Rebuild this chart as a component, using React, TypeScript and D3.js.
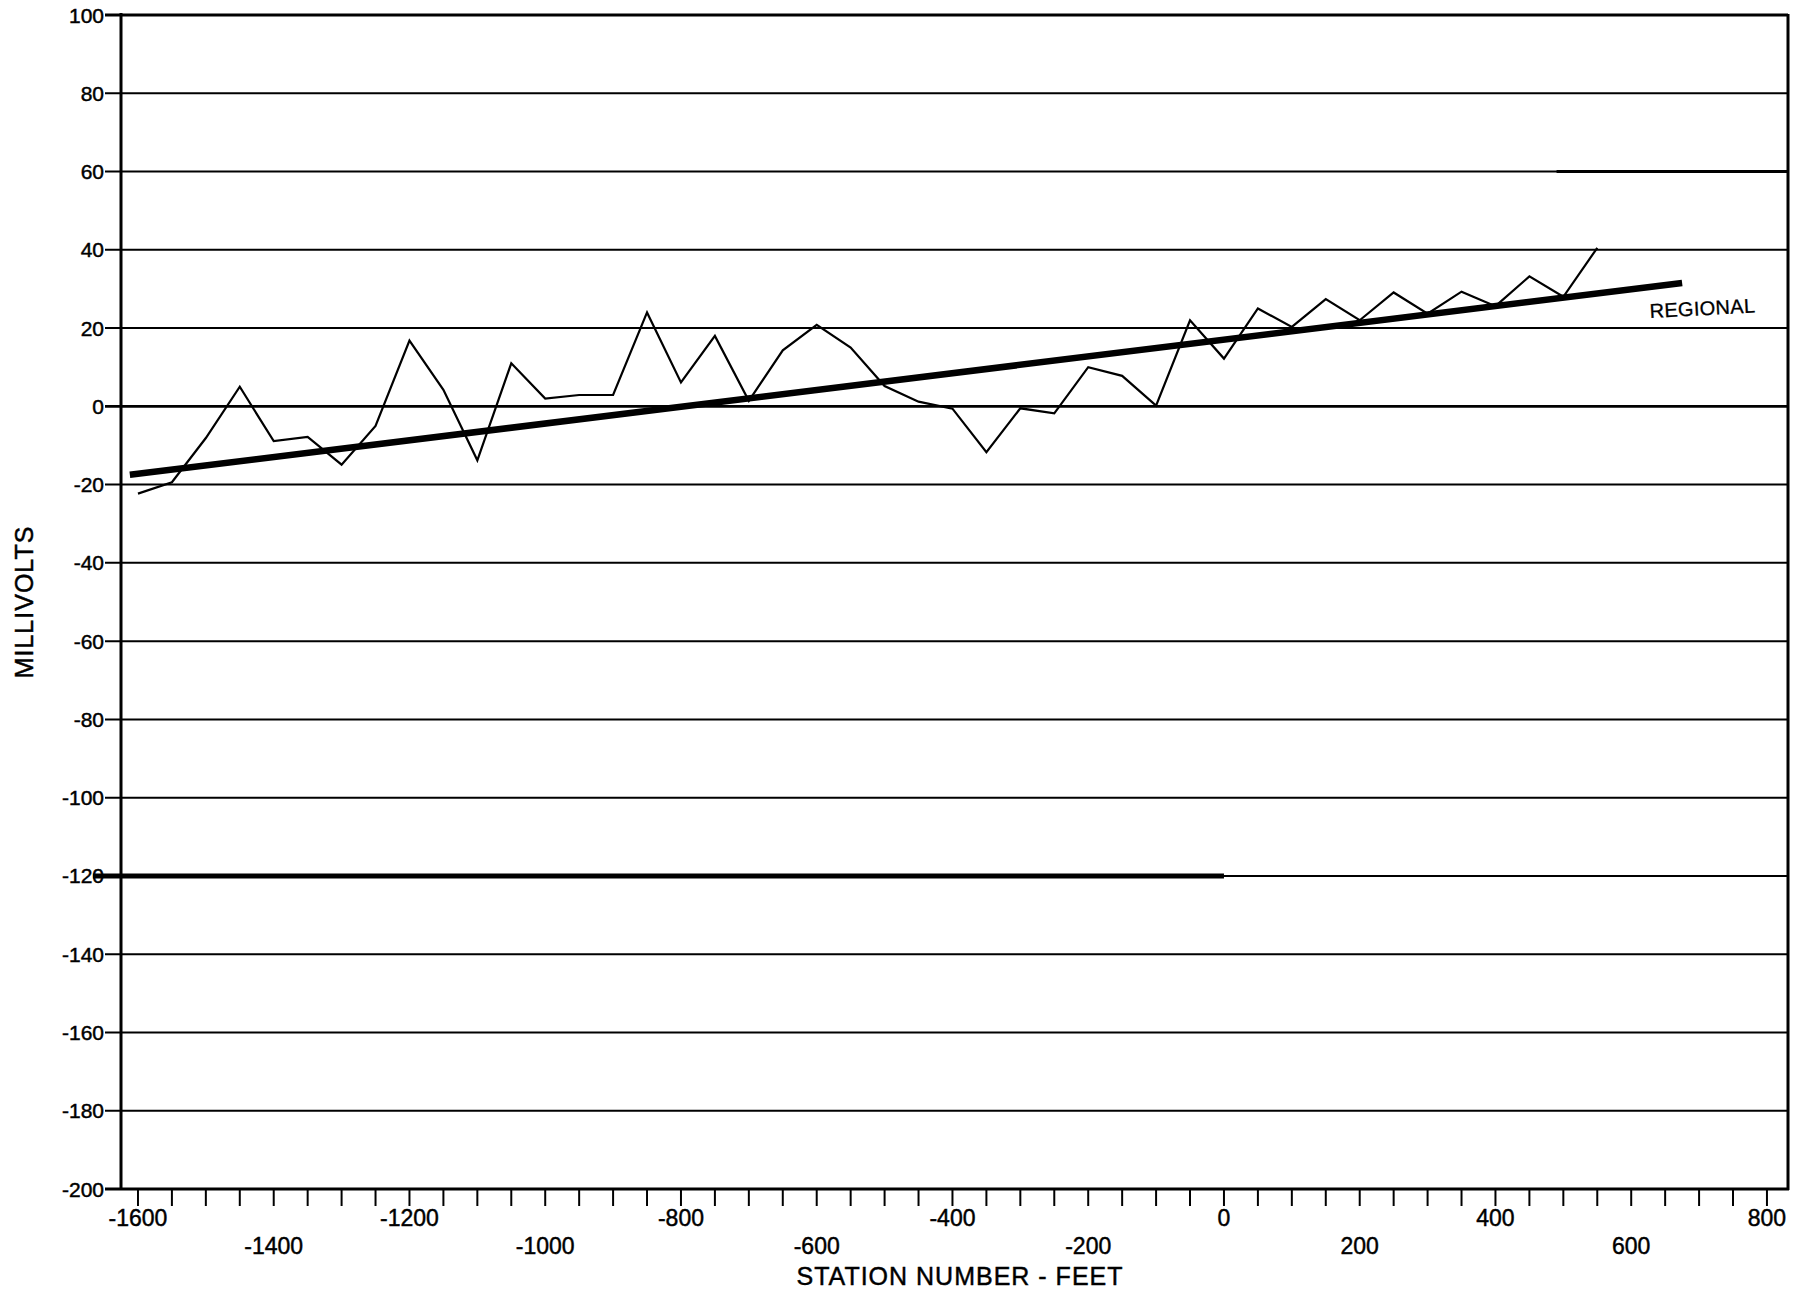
import React from "react";
import * as d3 from "d3";

// Station (feet) and self-potential readings (millivolts)
const stations = [
  -1600, -1550, -1500, -1450, -1400, -1350, -1300, -1250, -1200, -1150,
  -1100, -1050, -1000, -950, -900, -850, -800, -750, -700, -650,
  -600, -550, -500, -450, -400, -350, -300, -250, -200, -150,
  -100, -50, 0, 50, 100, 150, 200, 250, 300, 350,
  400, 450, 500, 550,
];
const millivolts = [
  -22.3, -19.4, -8.1, 5, -8.9, -7.8, -14.9, -5, 16.8, 4.2,
  -13.8, 11, 2, 2.9, 2.9, 24, 6.1, 18, 1.4, 14.3,
  20.8, 15, 5.2, 1.2, -0.6, -11.7, -0.5, -1.8, 10, 7.8,
  0.2, 22, 12.2, 25, 20.3, 27.4, 22, 29.1, 23.7, 29.3,
  25.6, 33.2, 28, 40.5,
];

// Regional trend line end points
const regionalStations = [-1612, 675];
const regionalValues = [-17.5, 31.5];

// Axis ticks
const yTicks = [100, 80, 60, 40, 20, 0, -20, -40, -60, -80, -100, -120, -140, -160, -180, -200];
const xTickMarks = d3.range(-1600, 801, 50);
const xLabelsRow1 = [-1600, -1200, -800, -400, 0, 400, 800];
const xLabelsRow2 = [-1400, -1000, -600, -200, 200, 600];

const FONT = "'Liberation Sans', Arial, Helvetica, sans-serif";

export default function App() {
  const W = 1804;
  const H = 1292;
  const left = 121;
  const right = 1788;
  const top = 15;
  const bottom = 1189;

  const x = d3.scaleLinear().domain([-1625, 831]).range([left, right]);
  const y = d3.scaleLinear().domain([-200, 100]).range([bottom, top]);

  const lineGen = d3
    .line<[number, number]>()
    .x((d) => x(d[0]))
    .y((d) => y(d[1]));

  const spData: [number, number][] = stations.map((s, i) => [s, millivolts[i]]);
  const regData: [number, number][] = regionalStations.map((s, i) => [s, regionalValues[i]]);

  const textStyle = { stroke: "#000", strokeWidth: 0.45 } as const;

  return (
    <svg
      width={W}
      height={H}
      style={{ position: "absolute", left: 0, top: 0, background: "#fff" }}
      fontFamily={FONT}
    >
      <rect x={0} y={0} width={W} height={H} fill="#fff" />

      {/* horizontal grid lines with outward ticks */}
      {yTicks.map((t) => (
        <line
          key={"g" + t}
          x1={left - 16}
          x2={right}
          y1={y(t)}
          y2={y(t)}
          stroke="#000"
          strokeWidth={t === 100 ? 3 : t === 0 ? 2.6 : 2}
        />
      ))}
      {/* heavier segments seen on the plot */}
      <line x1={left - 28} x2={x(0)} y1={y(-120)} y2={y(-120)} stroke="#000" strokeWidth={5} />
      <line x1={x(490)} x2={right} y1={y(60)} y2={y(60)} stroke="#000" strokeWidth={3} />

      {/* y tick labels */}
      {yTicks.map((t) => (
        <text
          key={"yl" + t}
          x={left - 17}
          y={y(t)}
          dy="0.36em"
          textAnchor="end"
          fontSize={21}
          fill="#000"
          {...textStyle}
        >
          {t}
        </text>
      ))}

      {/* frame */}
      <line x1={left} x2={left} y1={top - 2} y2={bottom + 1} stroke="#000" strokeWidth={3} />
      <line x1={right} x2={right} y1={top - 1} y2={bottom + 1} stroke="#000" strokeWidth={3} />
      <line x1={left - 16} x2={right + 1} y1={bottom} y2={bottom} stroke="#000" strokeWidth={3} />

      {/* x tick marks */}
      {xTickMarks.map((t) => (
        <line
          key={"xt" + t}
          x1={x(t)}
          x2={x(t)}
          y1={bottom}
          y2={bottom + 17}
          stroke="#000"
          strokeWidth={2}
        />
      ))}

      {/* x tick labels (two staggered rows) */}
      {xLabelsRow1.map((t) => (
        <text key={"x1" + t} x={x(t)} y={1218} dy="0.36em" textAnchor="middle" fontSize={23} fill="#000" {...textStyle}>
          {t}
        </text>
      ))}
      {xLabelsRow2.map((t) => (
        <text key={"x2" + t} x={x(t)} y={1246} dy="0.36em" textAnchor="middle" fontSize={23} fill="#000" {...textStyle}>
          {t}
        </text>
      ))}

      {/* axis titles */}
      <text
        x={960}
        y={1276}
        dy="0.36em"
        textAnchor="middle"
        fontSize={25}
        letterSpacing={1}
        fill="#000"
        {...textStyle}
      >
        STATION NUMBER - FEET
      </text>
      <text
        transform={`translate(24, ${(top + bottom) / 2}) rotate(-90)`}
        textAnchor="middle"
        dy="0.36em"
        fontSize={25}
        letterSpacing={1}
        fill="#000"
        {...textStyle}
      >
        MILLIVOLTS
      </text>

      {/* regional trend */}
      <path d={lineGen(regData) || ""} fill="none" stroke="#000" strokeWidth={6.5} strokeLinecap="butt" />

      {/* measured profile */}
      <path d={lineGen(spData) || ""} fill="none" stroke="#000" strokeWidth={2.2} strokeLinejoin="miter" />

      {/* label */}
      <text
        transform={`translate(1650, 318) rotate(-3)`}
        fontSize={20}
        fill="#000"
        letterSpacing={0.3}
        stroke="#000"
        strokeWidth={0.3}
      >
        REGIONAL
      </text>
    </svg>
  );
}
